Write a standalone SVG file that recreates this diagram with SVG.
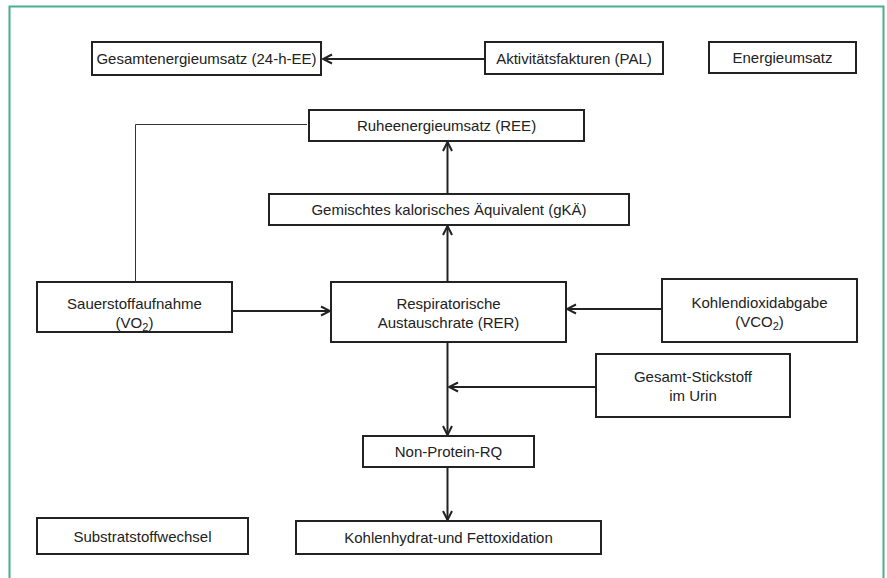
<svg xmlns="http://www.w3.org/2000/svg" width="887" height="578" viewBox="0 0 887 578">
<style>
.box{fill:#fff;stroke:#222;stroke-width:2}
.t{font-family:"Liberation Sans",Arial,sans-serif;font-size:15px;fill:#222;text-anchor:middle}
.c{fill:none;stroke:#222;stroke-width:2}
.thin{fill:none;stroke:#333;stroke-width:1}
</style>
<defs>
<marker id="a" markerWidth="12" markerHeight="12" refX="10" refY="6" orient="auto" markerUnits="userSpaceOnUse">
<path d="M1,1.5 L10,6 L1,10.5" fill="none" stroke="#222" stroke-width="2"/>
</marker>
</defs>
<rect x="9.5" y="6.5" width="874" height="580" fill="#fff" stroke="#4aae90" stroke-width="2"/>
<g id="connectors">
<line class="c" x1="485" y1="59" x2="323" y2="59" marker-end="url(#a)"/>
<polyline class="thin" points="307,124.5 135.5,124.5 135.5,282"/>
<line class="c" x1="232" y1="311" x2="330" y2="311" marker-end="url(#a)"/>
<line class="c" x1="662" y1="309" x2="567" y2="309" marker-end="url(#a)"/>
<line class="c" x1="447.5" y1="282" x2="447.5" y2="226" marker-end="url(#a)"/>
<line class="c" x1="447.5" y1="194" x2="447.5" y2="142" marker-end="url(#a)"/>
<line class="c" x1="447.5" y1="342" x2="447.5" y2="435" marker-end="url(#a)"/>
<line class="c" x1="596" y1="387" x2="449" y2="387" marker-end="url(#a)"/>
<line class="c" x1="447.5" y1="467" x2="447.5" y2="520" marker-end="url(#a)"/>
</g>
<g id="gesamt"><rect class="box" x="92" y="42" width="229" height="33"/><text class="t" x="206.5" y="64">Gesamtenergieumsatz (24-h-EE)</text></g>
<g id="pal"><rect class="box" x="485" y="42" width="178" height="32"/><text class="t" x="574" y="63.5">Aktivitätsfakturen (PAL)</text></g>
<g id="energie"><rect class="box" x="709" y="42" width="147" height="31"/><text class="t" x="782.5" y="63">Energieumsatz</text></g>
<g id="ree"><rect class="box" x="309" y="110" width="275" height="31"/><text class="t" x="446.5" y="131">Ruheenergieumsatz (REE)</text></g>
<g id="gka"><rect class="box" x="269" y="194" width="360" height="31"/><text class="t" x="449" y="215">Gemischtes kalorisches Äquivalent (gKÄ)</text></g>
<g id="vo2"><rect class="box" x="37" y="282" width="195" height="50"/><text class="t" x="134.5" y="309">Sauerstoffaufnahme</text><text class="t" x="134.5" y="328">(VO<tspan font-size="11" dy="3">2</tspan><tspan dy="-3">)</tspan></text></g>
<g id="rer"><rect class="box" x="331" y="282" width="235" height="60"/><text class="t" x="448.5" y="309">Respiratorische</text><text class="t" x="448.5" y="328">Austauschrate (RER)</text></g>
<g id="vco2"><rect class="box" x="662" y="279" width="195" height="63"/><text class="t" x="759.5" y="308">Kohlendioxidabgabe</text><text class="t" x="759.5" y="326.5">(VCO<tspan font-size="11" dy="3">2</tspan><tspan dy="-3">)</tspan></text></g>
<g id="stickstoff"><rect class="box" x="596" y="354" width="194" height="63"/><text class="t" x="693" y="382">Gesamt-Stickstoff</text><text class="t" x="693" y="400.5">im Urin</text></g>
<g id="nprq"><rect class="box" x="363" y="436" width="171" height="31"/><text class="t" x="448.5" y="457">Non-Protein-RQ</text></g>
<g id="substrat"><rect class="box" x="37" y="518" width="211" height="36"/><text class="t" x="142.5" y="541.5">Substratstoffwechsel</text></g>
<g id="oxidation"><rect class="box" x="296" y="521" width="305" height="33"/><text class="t" x="448.5" y="542.5">Kohlenhydrat-und Fettoxidation</text></g>
</svg>
